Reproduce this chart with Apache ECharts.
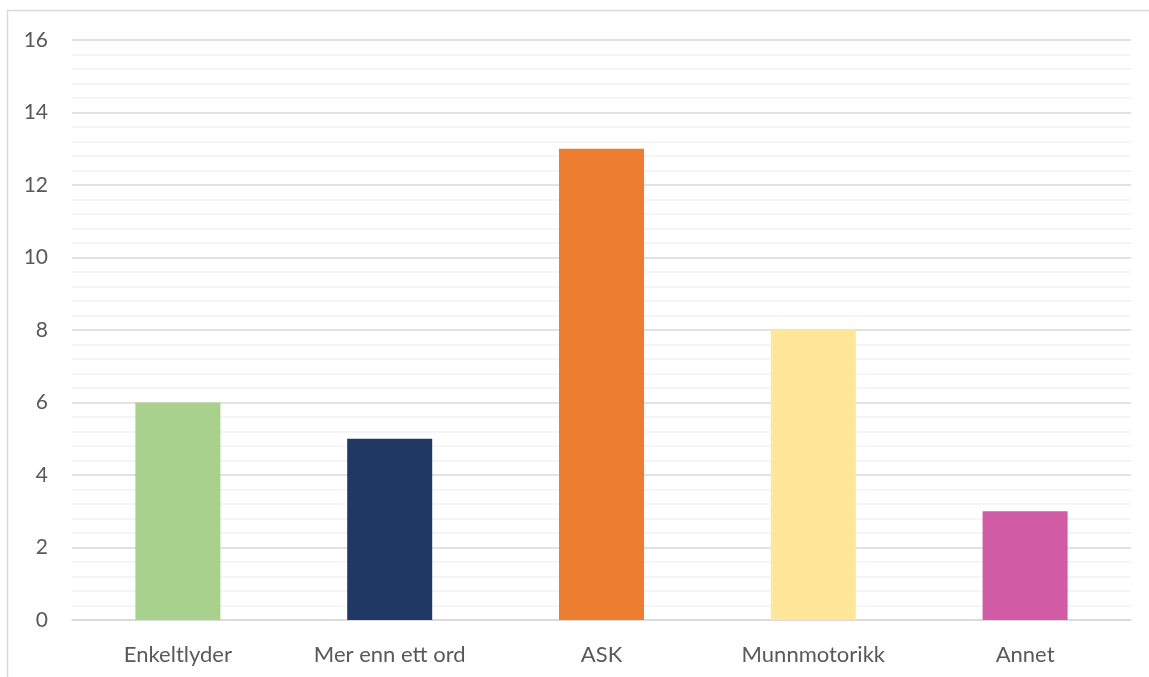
<!DOCTYPE html>
<html>
<head>
<meta charset="utf-8">
<script src="https://cdn.jsdelivr.net/npm/echarts@6/dist/echarts.min.js"></script>
<style>
  html, body { margin: 0; padding: 0; background: #fff; }
  #chart { width: 1149px; height: 677px; }
</style>
</head>
<body>
<div id="chart"></div>
<script>
// Categories and counts
const categories = ['Enkeltlyder', 'Mer enn ett ord', 'ASK', 'Munnmotorikk', 'Annet'];
const counts = [6, 5, 13, 8, 3];
const barColors = ['#A9D18E', '#203864', '#ED7D31', '#FFE699', '#D15BA5'];
const yTicks = { min: 0, max: 16, interval: 2 };

const chart = echarts.init(document.getElementById('chart'), null, { renderer: 'canvas' });

const font = 'Lato, "Open Sans", sans-serif';

chart.setOption({
  animation: false,
  backgroundColor: '#ffffff',
  graphic: [{
    type: 'rect',
    shape: { x: 7.5, y: 10.5, width: 1160, height: 700 },
    style: { fill: 'none', stroke: '#D9D9D9', lineWidth: 1.5 },
    silent: true,
    z: -1
  }],
  grid: { left: 72, right: 18, top: 40, bottom: 57, containLabel: false },
  xAxis: {
    type: 'category',
    data: categories,
    axisLine: { show: true, lineStyle: { color: '#D9D9D9', width: 1.5 } },
    axisTick: { show: false },
    axisLabel: { color: '#595959', fontSize: 22, fontFamily: font, margin: 24 }
  },
  yAxis: {
    type: 'value',
    min: yTicks.min,
    max: yTicks.max,
    interval: yTicks.interval,
    axisLine: { show: false },
    axisTick: { show: false },
    axisLabel: { color: '#595959', fontSize: 21, fontFamily: font, margin: 24 },
    splitLine: { show: true, lineStyle: { color: '#D9D9D9', width: 1.5 } },
    minorTick: { show: false, splitNumber: 5 },
    minorSplitLine: { show: true, lineStyle: { color: '#F2F2F2', width: 1.5 } }
  },
  series: [{
    type: 'bar',
    data: counts.map((v, i) => ({ value: v, itemStyle: { color: barColors[i] } })),
    barWidth: 85
  }]
});
</script>
</body>
</html>
